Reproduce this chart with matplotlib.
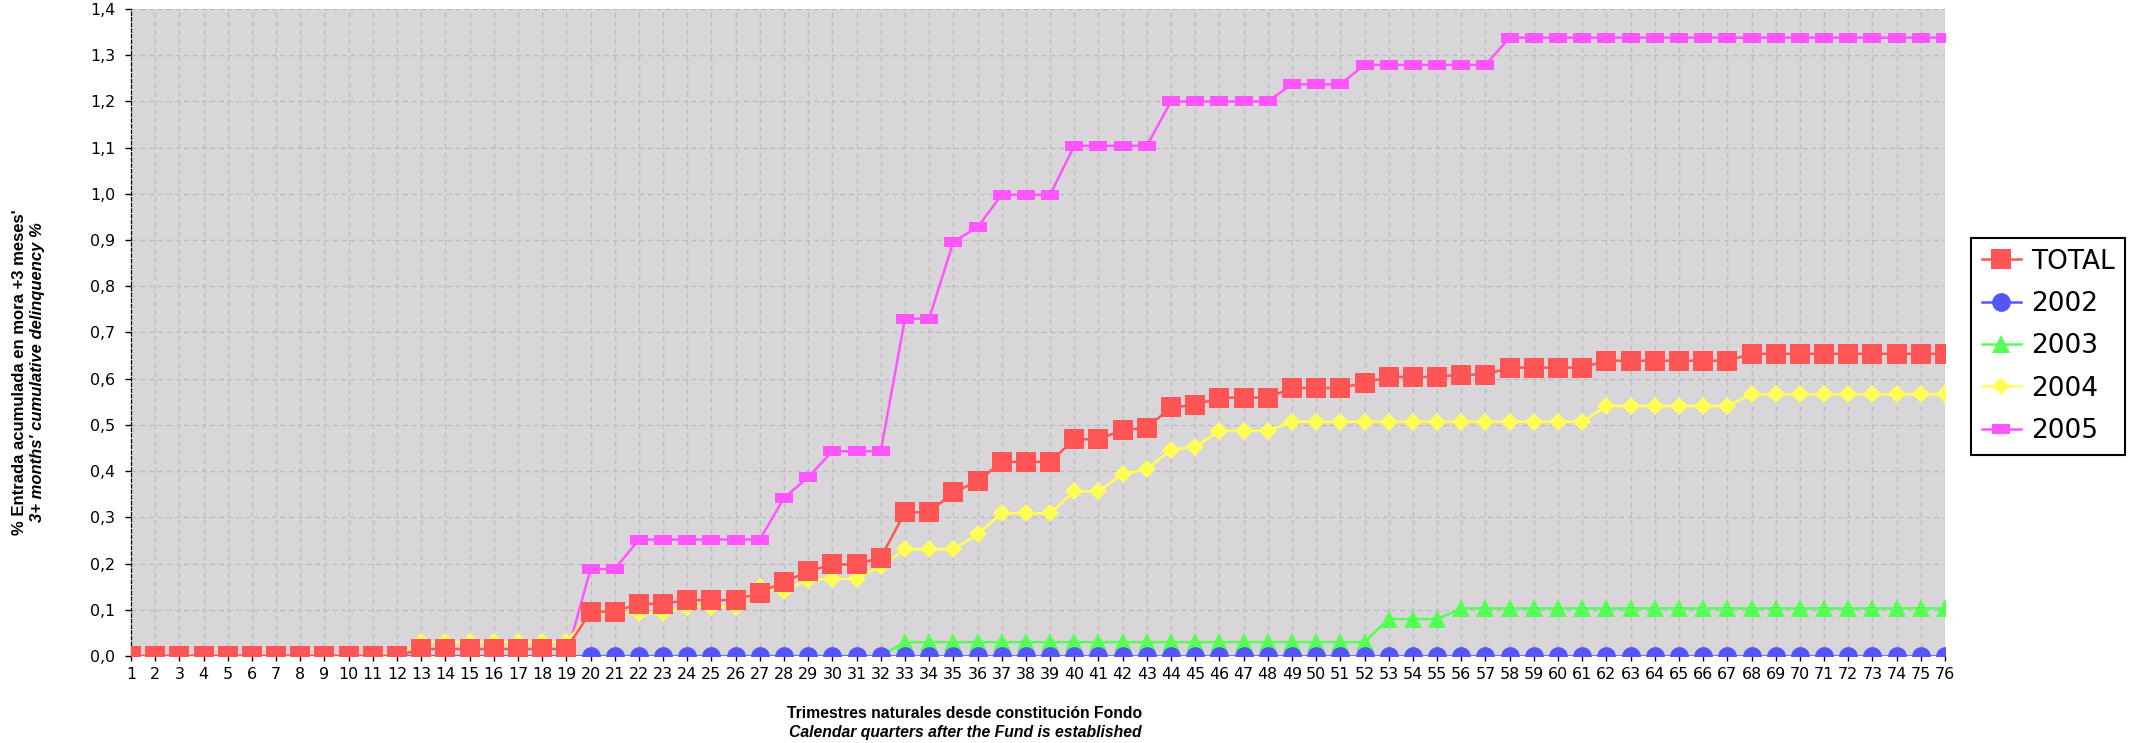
import matplotlib
matplotlib.use("Agg")
import matplotlib.pyplot as plt
from matplotlib.lines import Line2D
from matplotlib.ticker import FuncFormatter, MultipleLocator

# quarters since the fund was set up
quarters = list(range(1, 77))

total = ([0.0] * 12 + [0.015] * 7 +
         [0.096, 0.096, 0.113, 0.113, 0.121, 0.121, 0.121, 0.137, 0.160, 0.183,
          0.198, 0.198, 0.213, 0.311, 0.311, 0.354, 0.378, 0.420, 0.420, 0.420,
          0.469, 0.469, 0.489, 0.494, 0.538, 0.543, 0.559, 0.559, 0.559, 0.580,
          0.580, 0.580, 0.591, 0.604, 0.604, 0.604, 0.609, 0.609, 0.624, 0.624,
          0.624, 0.624] +
         [0.639] * 6 + [0.654] * 9)

y2002 = [0.0] * 76

y2003 = [0.0] * 32 + [0.030] * 20 + [0.080] * 3 + [0.103] * 21

y2004 = ([0.0] * 12 + [0.030] * 7 +
         [0.093, 0.093, 0.093, 0.093, 0.107, 0.107, 0.105, 0.150, 0.141, 0.165,
          0.167, 0.167, 0.195, 0.231, 0.231, 0.231, 0.263, 0.309, 0.309, 0.309,
          0.356, 0.356, 0.394, 0.404, 0.446, 0.453, 0.487, 0.487, 0.487] +
         [0.507] * 13 + [0.541] * 6 + [0.566] * 9)

y2005 = ([0.0] * 19 + [0.188, 0.188] + [0.252] * 6 +
         [0.342, 0.387, 0.443, 0.443, 0.443, 0.730, 0.730, 0.896, 0.928,
          0.998, 0.998, 0.998] +
         [1.104] * 4 + [1.200] * 5 + [1.237] * 3 + [1.279] * 6 + [1.338] * 19)

labels = ["TOTAL", "2002", "2003", "2004", "2005"]

W, H = 2138, 743
fig = plt.figure(figsize=(W / 100, H / 100), dpi=100)
ax = fig.add_axes([131 / W, 1 - 656 / H, (1945 - 131) / W, (656 - 9) / H])
ax.set_facecolor("#d8d6d8")

rect = [(-1, -0.58), (1, -0.58), (1, 0.58), (-1, 0.58), (-1, -0.58)]
styles = {
    "TOTAL": dict(color="#ff5555", marker="s", ms=13.7),
    "2002": dict(color="#5555ff", marker="o", ms=13.5),
    "2003": dict(color="#55ff55", marker="^", ms=13.5),
    "2004": dict(color="#ffff55", marker="D", ms=9.6),
    "2005": dict(color="#ff55ff", marker=rect, ms=13.3),
}
series = {"TOTAL": total, "2002": y2002, "2003": y2003, "2004": y2004, "2005": y2005}

# first series drawn last so it sits on top
for i, name in enumerate(reversed(labels)):
    st = styles[name]
    ax.plot(quarters, series[name], color=st["color"], lw=1.8,
            marker=st["marker"], ms=st["ms"], mew=0, zorder=3 + i)

ax.set_xlim(1, 76)
ax.set_ylim(0, 1.4)
ax.set_xticks(quarters)
ax.yaxis.set_major_locator(MultipleLocator(0.1))
ax.yaxis.set_major_formatter(FuncFormatter(lambda v, p: f"{v:.1f}".replace(".", ",")))
ax.tick_params(axis="both", labelsize=11.4, width=1, color="black")
ax.tick_params(axis="x", length=3.5, pad=4.3)
ax.tick_params(axis="y", length=4.3, pad=7)

ax.grid(True, color="#bcbcbc", lw=0.9, linestyle=(0, (4, 3)))
ax.set_axisbelow(True)

for s in ["top", "right", "bottom"]:
    ax.spines[s].set_visible(False)
ax.spines["left"].set_linestyle((0, (2.5, 2)))
ax.spines["left"].set_linewidth(0.9)

# axis titles
narrow = ["Liberation Sans Narrow", "Liberation Sans", "DejaVu Sans"]
fig.text(20 / W, 1 - 372 / H, "% Entrada acumulada en mora +3 meses'", rotation=90,
         ha="center", va="center", fontsize=12, fontweight="bold", family=narrow)
fig.text(38 / W, 1 - 372 / H, "3+ months' cumulative delinquency %", rotation=90,
         ha="center", va="center", fontsize=12, fontweight="bold", fontstyle="italic",
         family=narrow)

sans = ["Liberation Sans", "DejaVu Sans"]
fig.text(965 / W, 1 - 714 / H, "Trimestres naturales desde constitución Fondo",
         ha="center", va="center", fontsize=11.3, fontweight="bold", family=sans)
fig.text(965 / W, 1 - 732 / H, "Calendar quarters after the Fund is established",
         ha="center", va="center", fontsize=11.3, fontweight="bold", fontstyle="italic",
         family=sans)

handles = [Line2D([], [], color=styles[n]["color"], lw=1.8, marker=styles[n]["marker"],
                  ms=styles[n]["ms"], mew=0) for n in labels]
leg = fig.legend(handles, labels, loc="upper left",
                 bbox_to_anchor=(1971 / W, 1 - 238 / H), borderaxespad=0,
                 fontsize=19, fancybox=False, framealpha=1, edgecolor="black",
                 handlelength=1.5, handletextpad=0.38, labelspacing=0.62,
                 borderpad=0.4)
leg.get_frame().set_linewidth(1.5)

fig.savefig("out.png", dpi=100)
